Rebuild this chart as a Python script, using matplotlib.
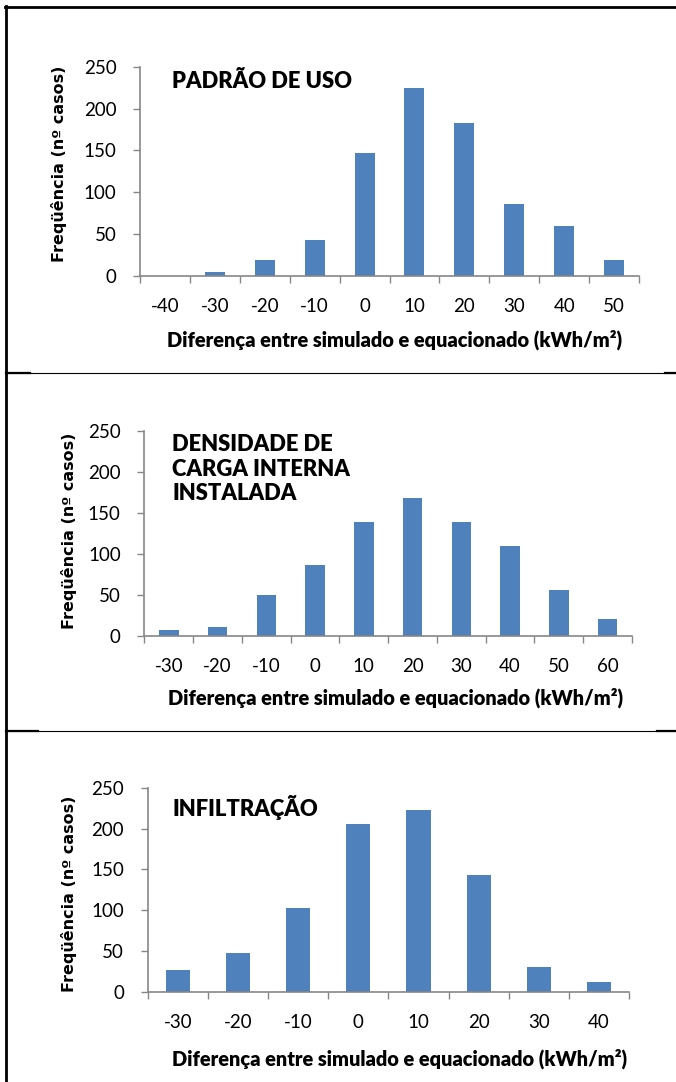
import matplotlib.pyplot as plt
import numpy as np

W, H = 676, 1082

# panel 1 - padrao de uso
cat_uso = ['-40', '-30', '-20', '-10', '0', '10', '20', '30', '40', '50']
freq_uso = [0, 5, 19, 43, 147, 224, 183, 86, 60, 19]

# panel 2 - densidade de carga interna instalada
cat_carga = ['-30', '-20', '-10', '0', '10', '20', '30', '40', '50', '60']
freq_carga = [7, 11, 50, 86, 139, 168, 139, 110, 56, 20]

# panel 3 - infiltracao
cat_infil = ['-30', '-20', '-10', '0', '10', '20', '30', '40']
freq_infil = [26, 48, 102, 206, 223, 143, 30, 12]

titles = ['PADRÃO DE USO', 'DENSIDADE DE\nCARGA INTERNA\nINSTALADA', 'INFILTRAÇÃO']
xlab = 'Diferença entre simulado e equacionado (kWh/m²)'
ylab = 'Freqüência (nº casos)'

barcol = '#4F81BD'
axcol = '#868686'
tickfont = ['Lato', 'DejaVu Sans']
boldfont = ['Lato', 'DejaVu Sans']

fig = plt.figure(figsize=(W / 100, H / 100), dpi=100)

# pixel boxes: left, right, y of zero, y of 250
boxes = [(140, 639, 276, 66.7), (144.4, 632, 635.7, 431), (147.8, 629, 991.7, 787.7)]
ylab_pos = [(59, 164), (69, 531), (69, 894)]
xlab_pos = [(395, 340), (396, 698), (400, 1059)]
title_pos = [(172, 81), (172, 469), (172, 808)]

data = [(cat_uso, freq_uso), (cat_carga, freq_carga), (cat_infil, freq_infil)]

for i, (cats, vals) in enumerate(data):
    l, r, b, t = boxes[i]
    ax = fig.add_axes([l / W, 1 - b / H, (r - l) / W, (b - t) / H])
    n = len(cats)
    x = np.arange(n)
    ax.bar(x, vals, width=0.4, color=barcol, zorder=2)
    ax.set_xlim(-0.5, n - 0.5)
    ax.set_ylim(0, 250)
    ax.set_yticks([0, 50, 100, 150, 200, 250])
    ax.set_xticks(np.arange(n + 1) - 0.5)
    ax.set_xticklabels([])
    ax.set_xticks(x, minor=True)
    ax.set_xticklabels(cats, minor=True, fontfamily=tickfont, fontsize=13.5)
    ax.tick_params(axis='x', which='major', length=5, width=1, color=axcol, direction='out')
    ax.tick_params(axis='x', which='minor', length=0, pad=16)
    ax.tick_params(axis='y', length=5, width=1, color=axcol, direction='out', pad=12)
    for lab in ax.get_yticklabels():
        lab.set_fontfamily(tickfont)
        lab.set_fontsize(13.5)
    for s in ['top', 'right']:
        ax.spines[s].set_visible(False)
    for s in ['left', 'bottom']:
        ax.spines[s].set_color(axcol)
        ax.spines[s].set_linewidth(1.2)
    ax.patch.set_alpha(0)

    fig.text(ylab_pos[i][0] / W, 1 - ylab_pos[i][1] / H, ylab, rotation=90,
             ha='center', va='center', fontsize=11.5, fontweight='bold', family='DejaVu Sans')
    fig.text(xlab_pos[i][0] / W, 1 - xlab_pos[i][1] / H, xlab,
             ha='center', va='center', fontsize=14.4, fontweight='heavy', family=boldfont)
    fig.text(title_pos[i][0] / W, 1 - title_pos[i][1] / H, titles[i],
             ha='left', va='center', fontsize=15.8, fontweight='heavy', family=boldfont,
             linespacing=1.2)

# document frame lines
def hline(y, x0, x1, lw):
    fig.add_artist(plt.Line2D([x0 / W, x1 / W], [1 - y / H, 1 - y / H], color='black', lw=lw))

fig.add_artist(plt.Line2D([6 / W, 6 / W], [0, 1 - 6 / H], color='black', lw=2))
hline(7, 5, W, 2)
for y in (373, 731):
    hline(y, 6, W, 0.8)
    hline(y, 6, 30 if y == 373 else 38, 1.6)
    hline(y, 665 if y == 373 else 657, W, 1.6)

fig.savefig('out.png', dpi=100)
